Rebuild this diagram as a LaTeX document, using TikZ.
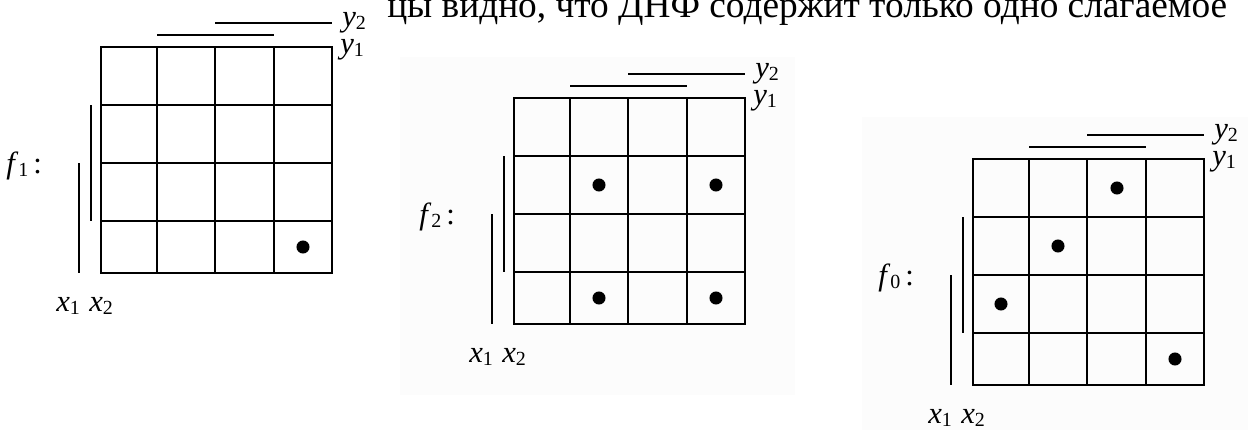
\documentclass[tikz,border=0pt]{standalone}
\usepackage{fontspec}
\setmainfont{Liberation Serif}
\definecolor{bgshade}{HTML}{FCFCFC}
\newcommand\sbs[1]{\raisebox{-0.25ex}{\fontsize{15}{15}\selectfont #1}}
\tikzset{
  gridline/.style={line width=1.4pt, line cap=rect},
  barline/.style={line width=1.4pt},
  lbl/.style={inner sep=0pt, font=\fontsize{23}{23}\selectfont},
  kdot/.style={circle, fill=black, inner sep=0pt, minimum size=9.8pt},
}
% #1 name, #2 x, #3 y, #4 subscript of f
\newcommand\kmap[4]{%
  \begin{scope}[shift={(#2,#3)}]
    \draw[gridline] (0,0) rectangle (231,226);
    \foreach \c in {56,114,173} \draw[gridline] (\c,0) -- (\c,226);
    \foreach \r in {58,116,174} \draw[gridline] (0,\r) -- (231,\r);
    \coordinate (#1-y2a) at (114,-24);
    \coordinate (#1-y2b) at (231,-24);
    \coordinate (#1-y1a) at (56,-12);
    \coordinate (#1-y1b) at (173,-12);
    \coordinate (#1-x2a) at (-10,58);
    \coordinate (#1-x2b) at (-10,174);
    \coordinate (#1-x1a) at (-22,116);
    \coordinate (#1-x1b) at (-22,226);
    \draw[barline] (#1-y2a) -- (#1-y2b);
    \draw[barline] (#1-y1a) -- (#1-y1b);
    \draw[barline] (#1-x2a) -- (#1-x2b);
    \draw[barline] (#1-x1a) -- (#1-x1b);
    \node[lbl, anchor=base west] (#1-ly2) at (241,-21) {\textit{y}\sbs{2}};
    \node[lbl, anchor=base west] (#1-ly1) at (239,6) {\textit{y}\sbs{1}};
    \node[lbl, anchor=base west] (#1-lf) at (-95,126) {\textit{f}\sbs{#4}\,:};
    \node[lbl, anchor=base west] (#1-lx1) at (-45,264) {\textit{x}\sbs{1}};
    \node[lbl, anchor=base west] (#1-lx2) at (-12,264) {\textit{x}\sbs{2}};
  \end{scope}}
\begin{document}
\begin{tikzpicture}[x=0.75pt, y=-0.75pt]
  \useasboundingbox (0,0) rectangle (1248,430);
  \fill[bgshade] (400,57) rectangle (795,395);
  \fill[bgshade] (862,117) rectangle (1248,430);
  \node[anchor=base west, inner sep=0pt, font=\fontsize{28}{28}\selectfont] (toptext) at (387,17)
    {цы видно, что ДНФ содержит только одно слагаемое};
  \kmap{A}{101}{47}{1}
  \kmap{B}{514}{98}{2}
  \kmap{C}{973}{159}{0}
  % cell centres: columns 28, 85, 143.5, 202; rows 29, 87, 145, 200
  \node[kdot] (A-d44) at (303,247) {};
  \node[kdot] (B-d22) at (599,185) {};
  \node[kdot] (B-d24) at (716,185) {};
  \node[kdot] (B-d42) at (599,298) {};
  \node[kdot] (B-d44) at (716,298) {};
  \node[kdot] (C-d13) at (1117,188) {};
  \node[kdot] (C-d22) at (1058,246) {};
  \node[kdot] (C-d31) at (1001,304) {};
  \node[kdot] (C-d44) at (1175,359) {};
\end{tikzpicture}
\end{document}
